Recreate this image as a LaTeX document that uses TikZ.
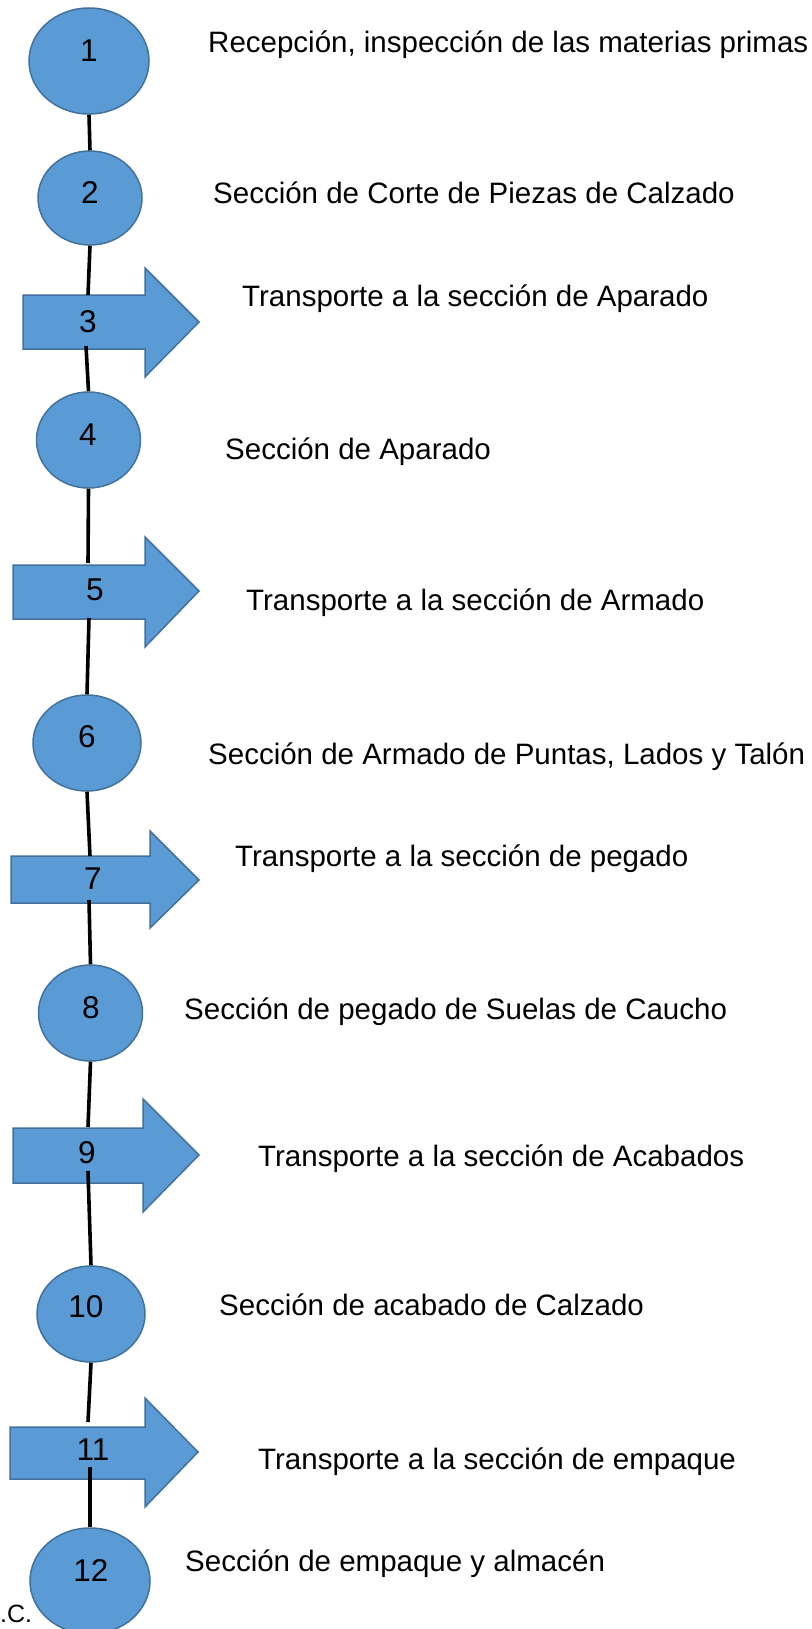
\documentclass[tikz,border=0pt]{standalone}
\usepackage{fontspec}
\setmainfont{Liberation Sans}
\usetikzlibrary{shapes.geometric}
\definecolor{boxfill}{RGB}{91,155,213}
\definecolor{boxedge}{RGB}{65,113,156}
\begin{document}
\begin{tikzpicture}[x=1pt,y=-1pt,
  ell/.style={ellipse,draw=boxedge,fill=boxfill,line width=1.5pt,inner sep=0pt},
  tarrowshape/.style={draw=boxedge,fill=boxfill,line width=1.5pt,line join=miter},
  num/.style={inner sep=0pt,font=\fontsize{31.5}{36}\selectfont},
  desc/.style={anchor=base west,inner sep=0pt,font=\fontsize{29.5}{34}\selectfont},
  conn/.style={line width=3.6pt}]
\useasboundingbox (0,0) rectangle (811,1629);
% ellipses
\node[ell,minimum width=120pt,minimum height=106pt] (e1) at (89,61) {};
\node[ell,minimum width=104pt,minimum height=94pt] (e2) at (90,198) {};
\node[ell,minimum width=104pt,minimum height=96pt] (e4) at (88.5,440) {};
\node[ell,minimum width=108pt,minimum height=96pt] (e6) at (87,743) {};
\node[ell,minimum width=104pt,minimum height=96pt] (e8) at (90.5,1013) {};
\node[ell,minimum width=108pt,minimum height=96pt] (e10) at (91,1314) {};
\node[ell,minimum width=120pt,minimum height=106pt] (e12) at (90,1581) {};
% block arrows
\path[tarrowshape] (23,295) -- (145,295) -- (145,268) -- (199,322) -- (145,377) -- (145,349) -- (23,349) -- cycle;
\path[tarrowshape] (13,565) -- (145,565) -- (145,537) -- (199,591) -- (145,647) -- (145,619) -- (13,619) -- cycle;
\path[tarrowshape] (11,856) -- (150,856) -- (150,831) -- (199,880) -- (150,928) -- (150,903) -- (11,903) -- cycle;
\path[tarrowshape] (13,1128) -- (143,1128) -- (143,1099) -- (199,1155) -- (143,1212) -- (143,1183) -- (13,1183) -- cycle;
\path[tarrowshape] (10,1427) -- (145,1427) -- (145,1398) -- (198,1452) -- (145,1507) -- (145,1479) -- (10,1479) -- cycle;
% numbers
\node[num] (n1) at (89,51) {1};
\node[num] (n2) at (90,193) {2};
\node[num] (n3) at (88,322) {3};
\node[num] (n4) at (88,435) {4};
\node[num] (n5) at (95,590) {5};
\node[num] (n6) at (87,737) {6};
\node[num] (n7) at (93,879) {7};
\node[num] (n8) at (91,1008) {8};
\node[num] (n9) at (87,1153) {9};
\node[num] (n10) at (86,1307) {10};
\node[num] (n11) at (93,1450) {11};
\node[num] (n12) at (91,1570) {12};
% connector end points on the block arrows
\coordinate (a3t) at (88,295);
\coordinate (a3b) at (86,346);
\coordinate (a5t) at (88,563);
\coordinate (a5b) at (89,618);
\coordinate (a7t) at (90,856);
\coordinate (a7b) at (89,900);
\coordinate (a9t) at (88,1127);
\coordinate (a9b) at (88,1171);
\coordinate (a11t) at (88,1422);
\coordinate (a11b) at (90,1467);
% connectors
\draw[conn] (e1.south) -- (e2.north);
\draw[conn] (e2.south) -- (a3t);
\draw[conn] (a3b) -- (e4.north);
\draw[conn] (e4.south) -- (a5t);
\draw[conn] (a5b) -- (e6.north);
\draw[conn] (e6.south) -- (a7t);
\draw[conn] (a7b) -- (e8.north);
\draw[conn] (e8.south) -- (a9t);
\draw[conn] (a9b) -- (e10.north);
\draw[conn] (e10.south) -- (a11t);
\draw[conn] (a11b) -- (e12.north);
% descriptions
\node[desc] (t1) at (208,53) {Recepción, inspección de las materias primas};
\node[desc] (t2) at (213,204) {Sección de Corte de Piezas de Calzado};
\node[desc] (t3) at (242,306) {Transporte a la sección de Aparado};
\node[desc] (t4) at (225,459) {Sección de Aparado};
\node[desc] (t5) at (246,610) {Transporte a la sección de Armado};
\node[desc] (t6) at (208,764) {Sección de Armado de Puntas, Lados y Talón};
\node[desc] (t7) at (235,866) {Transporte a la sección de pegado};
\node[desc] (t8) at (184,1019) {Sección de pegado de Suelas de Caucho};
\node[desc] (t9) at (258,1166) {Transporte a la sección de Acabados};
\node[desc] (t10) at (219,1315) {Sección de acabado de Calzado};
\node[desc] (t11) at (258,1469) {Transporte a la sección de empaque};
\node[desc] (t12) at (185,1571) {Sección de empaque y almacén};
\node[anchor=base west,inner sep=0pt,font=\fontsize{25}{30}\selectfont] (t13) at (0,1622) {.C.};
\end{tikzpicture}
\end{document}
